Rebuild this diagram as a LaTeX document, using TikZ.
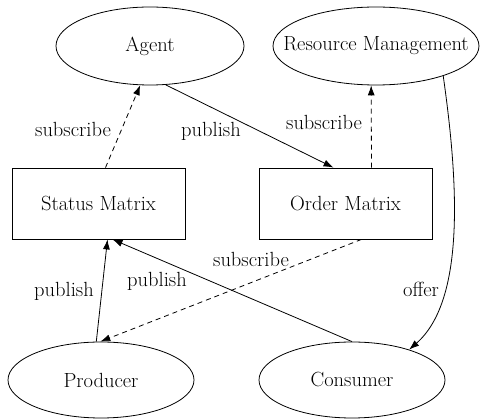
\documentclass[tikz,border=0pt]{standalone}
\usetikzlibrary{shapes.geometric,arrows.meta}
\begin{document}
\begin{tikzpicture}[x=1pt,y=-1pt,
  every node/.style={font=\fontsize{20.5}{24}\selectfont},
  oval/.style={draw,ellipse,line width=0.8pt,inner sep=0pt,minimum width=188pt,minimum height=78pt},
  box/.style={draw,rectangle,line width=0.8pt,inner sep=0pt,minimum width=173pt,minimum height=71pt},
  link/.style={line width=0.8pt,-{Latex[length=10pt,width=7pt]}},
  sub/.style={link,dash pattern=on 5pt off 4pt},
  lbl/.style={inner sep=1pt}]
\useasboundingbox (0,0) rectangle (480,419);

\node[oval] (ag) at (150,46) {Agent};
\node[oval,minimum width=206pt,inner xsep=-25pt] (rm) at (376,46) {Resource Management};
\node[box] (sm) at (98.5,203.5) {Status Matrix};
\node[box] (om) at (345.5,203.5) {Order Matrix};
\node[oval,minimum width=186pt,minimum height=76pt] (pr) at (101,380) {Producer};
\node[oval,minimum width=186pt,minimum height=76pt] (co) at (352,380) {Consumer};

\draw[sub] ([xshift=7pt]sm.north) -- (ag.-104);
\draw[link] (ag.-68) -- ([xshift=-12pt]om.north);
\draw[sub] ([xshift=26pt]om.north) -- (rm.-97);
\draw[link] (rm.-24) .. controls (458,180) and (466,300) .. (co.28);
\draw[link] (pr.97) -- ([xshift=9pt]sm.south);
\draw[link] (co.north) -- ([xshift=14pt]sm.south);
\draw[sub] ([xshift=16pt]om.south) -- (pr.91);

\node[lbl] (l1) at (73,129) {subscribe};
\node[lbl] (l2) at (211,131) {publish};
\node[lbl] (l3) at (324,122) {subscribe};
\node[lbl] (l4) at (421,289) {offer};
\node[lbl] (l5) at (64,291) {publish};
\node[lbl] (l6) at (157,281) {publish};
\node[lbl] (l7) at (251,259) {subscribe};
\end{tikzpicture}
\end{document}
